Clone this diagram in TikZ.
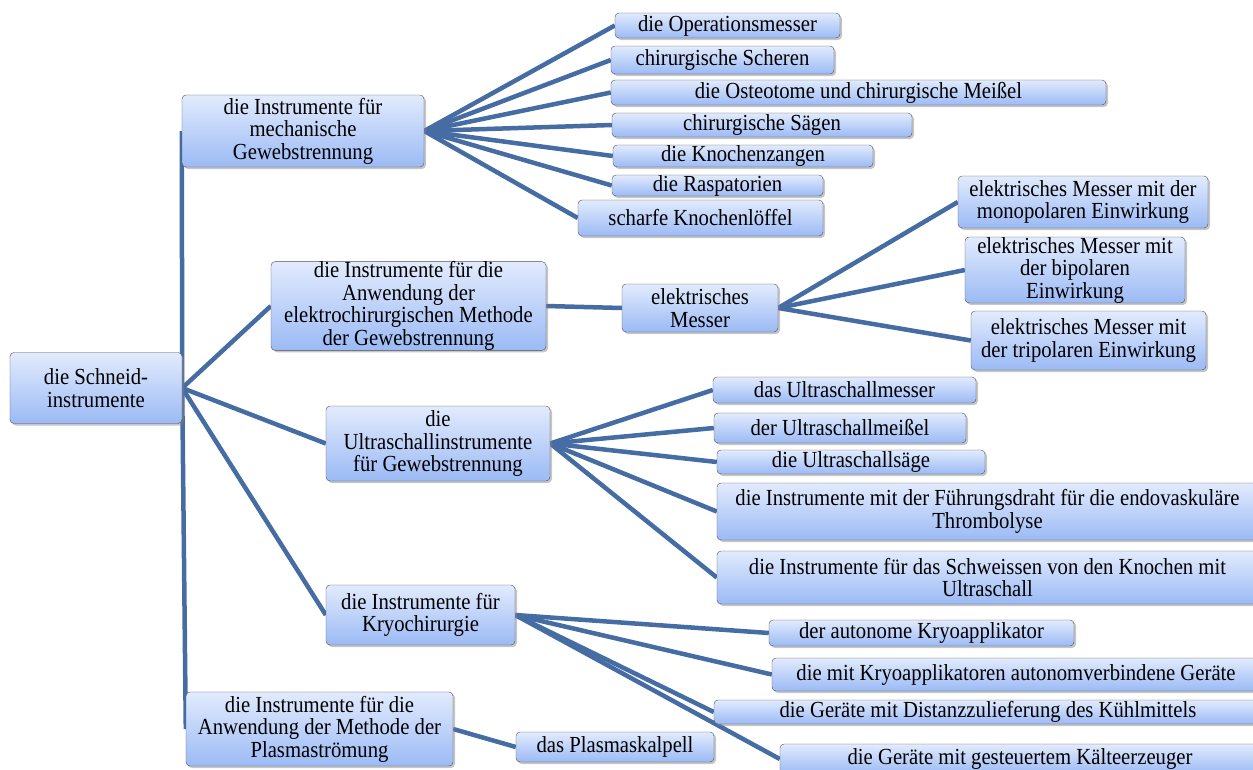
\documentclass[tikz,border=0pt]{standalone}
\usepackage{fontspec}
\setmainfont{Liberation Serif}[FakeStretch=0.9]
\usetikzlibrary{shadows,backgrounds}
\definecolor{boxtop}{RGB}{226,235,253}
\definecolor{boxbot}{RGB}{155,186,245}
\definecolor{boxline}{RGB}{80,80,85}
\definecolor{linkblue}{RGB}{70,108,164}
\begin{document}
\begin{tikzpicture}[x=1pt,y=-1pt]
       \tikzstyle{box} = [rectangle, rounded corners=4pt, draw=boxline, thin, top color=boxtop, bottom color=boxbot, inner sep=0pt, align=center, font=\fontsize{23}{22.5}\selectfont, drop shadow={shadow xshift=2pt, shadow yshift=-2pt, opacity=0.45}];
       \tikzstyle{link} = [draw=linkblue, line width=4.5pt];

       \useasboundingbox (0,0) rectangle (1253,769);
       \clip (0,0) rectangle (1253,769);

       % root and first level
       \node[box, minimum width=172pt, minimum height=71pt] (schneid) at (96,388) {die Schneid-\\instrumente};
       \node[box, minimum width=242pt, minimum height=72pt] (mech) at (303,131) {die Instrumente  für\\mechanische\\Gewebstrennung};
       \node[box, minimum width=275pt, minimum height=88pt] (elektro) at (408.5,306) {die Instrumente  für die\\Anwendung  der\\elektrochirurgischen  Methode\\der Gewebstrennung};
       \node[box, minimum width=224pt, minimum height=75pt] (ultra) at (438,443.5) {die\\Ultraschallinstrumente\\für Gewebstrennung};
       \node[box, minimum width=189pt, minimum height=60pt] (kryo) at (420.5,615) {die Instrumente  für\\Kryochirurgie};
       \node[box, minimum width=267pt, minimum height=74pt] (plasma) at (319.5,729) {die Instrumente  für die\\Anwendung  der Methode der\\Plasmaströmung};

       % mechanische Gewebstrennung
       \node[box, minimum width=225pt, minimum height=25pt] (opmesser) at (727.5,25.5) {die Operationsmesser};
       \node[box, minimum width=223pt, minimum height=28pt] (scheren) at (722.5,60) {chirurgische  Scheren};
       \node[box, minimum width=495pt, minimum height=25pt] (osteotome) at (858.5,92.5) {die Osteotome und chirurgische Meißel};
       \node[box, minimum width=300pt, minimum height=24pt] (saegen) at (762,125) {chirurgische Sägen};
       \node[box, minimum width=260pt, minimum height=22pt] (zangen) at (743,156) {die Knochenzangen};
       \node[box, minimum width=211pt, minimum height=21pt] (raspat) at (717.5,185.5) {die Raspatorien};
       \node[box, minimum width=245pt, minimum height=36pt] (loeffel) at (700.5,218) {scharfe  Knochenlöffel};

       % elektrochirurgische Methode
       \node[box, minimum width=156pt, minimum height=48pt] (emesser) at (700,308) {elektrisches\\Messer};
       \node[box, minimum width=250pt, minimum height=52pt] (mono) at (1083,202) {elektrisches  Messer  mit der\\monopolaren  Einwirkung};
       \node[box, minimum width=220pt, minimum height=60pt] (bipol) at (1075,270) {elektrisches  Messer  mit\\der bipolaren\\Einwirkung};
       \node[box, minimum width=235pt, minimum height=59pt] (tripol) at (1088.5,340.5) {elektrisches  Messer  mit\\der tripolaren  Einwirkung};

       % Ultraschall
       \node[box, minimum width=263pt, minimum height=26pt] (usmesser) at (844.5,390) {das Ultraschallmesser};
       \node[box, minimum width=252pt, minimum height=30pt] (usmeissel) at (840,428) {der Ultraschallmeißel};
       \node[box, minimum width=268pt, minimum height=24pt] (ussaege) at (851,462) {die Ultraschallsäge};
       \node[box, minimum width=541pt, minimum height=57pt] (draht) at (987.5,511.5) {die Instrumente  mit der Führungsdraht  für die endovaskuläre\\Thrombolyse};
       \node[box, minimum width=541pt, minimum height=53pt] (schweiss) at (987.5,577.5) {die Instrumente  für das Schweissen  von den Knochen  mit\\Ultraschall};

       % Kryochirurgie
       \node[box, minimum width=305pt, minimum height=26pt] (autonom) at (921.5,633) {der autonome  Kryoapplikator};
       \node[box, minimum width=488pt, minimum height=33pt] (kryoverb) at (1016,674.5) {die mit Kryoapplikatoren  autonomverbindene  Geräte};
       \node[box, minimum width=548pt, minimum height=24pt] (distanz) at (988,712) {die Geräte mit Distanzzulieferung des Kühlmittels};
       \node[box, minimum width=480pt, minimum height=30pt] (kaelte) at (1020,759) {die Geräte mit gesteuertem  Kälteerzeuger};

       % Plasma
       \node[box, minimum width=198pt, minimum height=30pt] (skalpell) at (615,747) {das Plasmaskalpell};

       \begin{scope}[on background layer]
         \foreach \n in {mech,elektro,ultra,kryo,plasma}
           \draw[link] (schneid.east) -- (\n.west);
         \foreach \n in {opmesser,scheren,osteotome,saegen,zangen,raspat,loeffel}
           \draw[link] (mech.east) -- (\n.west);
         \draw[link] (elektro.east) -- (emesser.west);
         \foreach \n in {mono,bipol,tripol}
           \draw[link] (emesser.east) -- (\n.west);
         \foreach \n in {usmesser,usmeissel,ussaege,draht,schweiss}
           \draw[link] (ultra.east) -- (\n.west);
         \foreach \n in {autonom,kryoverb,distanz,kaelte}
           \draw[link] (kryo.east) -- (\n.west);
         \draw[link] (plasma.east) -- (skalpell.west);
       \end{scope}
\end{tikzpicture}
\end{document}
